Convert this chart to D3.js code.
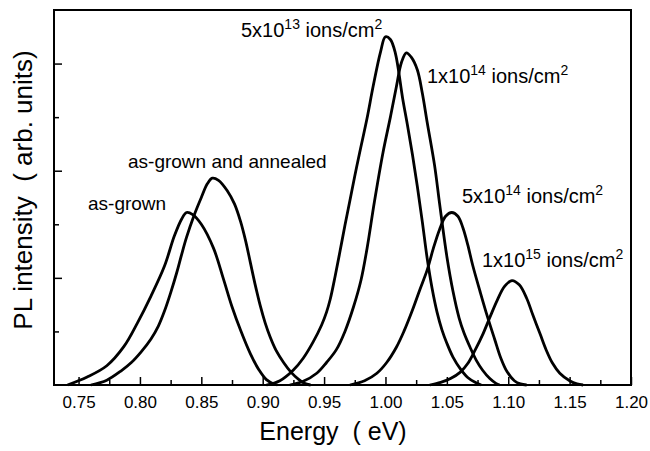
<!DOCTYPE html>
<html>
<head>
<meta charset="utf-8">
<script src="https://cdn.jsdelivr.net/npm/d3@7"></script>
<style>
  body { margin: 0; background: #fff; }
  text { font-family: "Liberation Sans", Arial, sans-serif; fill: #000; }
</style>
</head>
<body>
<div id="vis"></div>
<script>
// PL spectra, [energy (eV), intensity (arb.)]
const asGrown = [[0.741,0],[0.757,0.15],[0.773,0.36],[0.787,0.72],[0.798,1.16],[0.809,1.66],[0.820,2.22],[0.828,2.78],[0.834,3.10],[0.838,3.22],[0.843,3.18],[0.850,3.00],[0.860,2.55],[0.868,1.98],[0.875,1.46],[0.882,1.02],[0.890,0.58],[0.897,0.28],[0.903,0.10],[0.909,0.02],[0.912,0]];
const annealed = [[0.760,0],[0.773,0.09],[0.785,0.27],[0.793,0.42],[0.801,0.62],[0.809,0.86],[0.815,1.10],[0.820,1.38],[0.825,1.72],[0.830,2.10],[0.834,2.44],[0.838,2.76],[0.844,3.16],[0.850,3.50],[0.855,3.76],[0.859,3.86],[0.864,3.82],[0.871,3.63],[0.877,3.38],[0.882,3.05],[0.886,2.70],[0.890,2.28],[0.894,1.86],[0.898,1.48],[0.902,1.16],[0.906,0.90],[0.911,0.64],[0.917,0.42],[0.923,0.24],[0.929,0.11],[0.934,0.03],[0.939,0]];
const dose5e13 = [[0.903,0],[0.914,0.08],[0.925,0.28],[0.933,0.50],[0.941,0.80],[0.948,1.12],[0.952,1.36],[0.955,1.60],[0.959,2.03],[0.963,2.50],[0.967,2.98],[0.971,3.44],[0.975,3.90],[0.979,4.34],[0.985,4.98],[0.990,5.58],[0.996,6.22],[1.000,6.50],[1.004,6.45],[1.008,6.20],[1.014,5.35],[1.018,4.84],[1.022,4.30],[1.026,3.70],[1.030,3.05],[1.034,2.36],[1.038,1.80],[1.042,1.36],[1.046,1.03],[1.050,0.78],[1.055,0.52],[1.061,0.30],[1.067,0.14],[1.073,0.05],[1.078,0]];
const dose1e14 = [[0.922,0],[0.933,0.07],[0.944,0.22],[0.952,0.42],[0.960,0.66],[0.967,1.00],[0.974,1.46],[0.980,1.95],[0.985,2.55],[0.991,3.42],[0.998,4.34],[1.004,5.00],[1.009,5.58],[1.013,6.02],[1.017,6.20],[1.021,6.12],[1.026,5.88],[1.030,5.45],[1.034,4.90],[1.040,4.10],[1.044,3.40],[1.050,2.40],[1.055,1.75],[1.060,1.25],[1.064,0.97],[1.069,0.70],[1.074,0.46],[1.079,0.28],[1.085,0.12],[1.090,0.03],[1.093,0]];
const dose5e14 = [[0.971,0],[0.983,0.08],[0.993,0.22],[1.001,0.42],[1.009,0.71],[1.015,1.00],[1.022,1.40],[1.028,1.78],[1.034,2.15],[1.039,2.55],[1.044,2.90],[1.049,3.15],[1.054,3.22],[1.059,3.15],[1.063,2.94],[1.067,2.62],[1.071,2.24],[1.077,1.75],[1.083,1.28],[1.089,0.85],[1.094,0.50],[1.099,0.25],[1.105,0.08],[1.110,0.02],[1.115,0]];
const dose1e15 = [[1.036,0],[1.045,0.05],[1.053,0.12],[1.061,0.24],[1.067,0.40],[1.073,0.65],[1.079,0.93],[1.085,1.26],[1.091,1.58],[1.097,1.84],[1.103,1.95],[1.109,1.87],[1.115,1.62],[1.120,1.31],[1.126,0.95],[1.131,0.65],[1.136,0.41],[1.142,0.22],[1.150,0.08],[1.156,0.02],[1.161,0]];

const xMajor = [0.75,0.80,0.85,0.90,0.95,1.00,1.05,1.10,1.15,1.20];
const xMinor = [0.775,0.825,0.875,0.925,0.975,1.025,1.075,1.125,1.175];
const yMajor = [2,4,6];
const yMinor = [1,3,5];

const margin = { top: 10, right: 19, bottom: 66, left: 54 };
const W = 650, H = 451;
const width = W - margin.left - margin.right;
const height = H - margin.top - margin.bottom;

const $svg = d3.select('#vis').append('svg')
  .attr('width', W).attr('height', H);
const $plot = $svg.append('g')
  .attr('transform', `translate(${margin.left}, ${margin.top})`);

const x = d3.scaleLinear().domain([0.73, 1.20]).range([0, width]);
const y = d3.scaleLinear().domain([0, 7]).range([height, 0]);

// axes, ticks point inward
const fmt = d3.format('.2f');
const xAxis = $plot.append('g').attr('transform', `translate(0, ${height})`)
  .call(d3.axisBottom(x).tickValues(xMajor).tickFormat(fmt).tickSizeInner(-8).tickSizeOuter(0).tickPadding(11));
const xAxisMinor = $plot.append('g').attr('transform', `translate(0, ${height})`)
  .call(d3.axisBottom(x).tickValues(xMinor).tickFormat('').tickSizeInner(-5).tickSizeOuter(0));
const yAxis = $plot.append('g')
  .call(d3.axisLeft(y).tickValues(yMajor).tickFormat('').tickSizeInner(-8).tickSizeOuter(0));
const yAxisMinor = $plot.append('g')
  .call(d3.axisLeft(y).tickValues(yMinor).tickFormat('').tickSizeInner(-5).tickSizeOuter(0));

$plot.selectAll('.domain').remove();
$plot.selectAll('.tick line').attr('stroke', '#000').attr('stroke-width', 1.5);
xAxis.selectAll('.tick text').attr('font-size', 17).attr('font-family', '"Liberation Sans", Arial, sans-serif');

$plot.append('rect')
  .attr('x', 0).attr('y', 0)
  .attr('width', width).attr('height', height)
  .attr('fill', 'none').attr('stroke', '#000').attr('stroke-width', 2);

// spectra
const line = d3.line()
  .x(d => x(d[0]))
  .y(d => y(d[1]))
  .curve(d3.curveCatmullRom.alpha(0.5));

const series = [asGrown, annealed, dose5e13, dose1e14, dose5e14, dose1e15];
$plot.append('g').selectAll('path')
  .data(series)
  .enter().append('path')
  .attr('d', line)
  .attr('fill', 'none')
  .attr('stroke', '#000')
  .attr('stroke-width', 2.8)
  .attr('stroke-linejoin', 'round');

// curve labels: [text, exponent, energy, intensity]
const plainLabels = [['as-grown', 0.7577, 3.27], ['as-grown and annealed', 0.7903, 4.05]];
const doseLabels = [['5', '13', 0.8823, 6.50], ['1', '14', 1.0338, 5.64], ['5', '14', 1.0623, 3.40], ['1', '15', 1.0786, 2.20]];

plainLabels.forEach(l => {
  $plot.append('text')
    .attr('x', x(l[1])).attr('y', y(l[2]))
    .attr('font-size', 19)
    .text(l[0]);
});

doseLabels.forEach(l => {
  const t = $plot.append('text')
    .attr('x', x(l[2])).attr('y', y(l[3]))
    .attr('font-size', 20);
  t.append('tspan').text(`${l[0]}x10`);
  t.append('tspan').attr('font-size', 14).attr('dy', -8).text(l[1]);
  t.append('tspan').attr('dy', 8).text('\u00a0ions/cm');
  t.append('tspan').attr('font-size', 14).attr('dy', -8).text('2');
});

// axis titles
$svg.append('text')
  .attr('x', 333).attr('y', 440)
  .attr('text-anchor', 'middle')
  .attr('font-size', 25)
  .style('white-space', 'pre')
  .text('Energy  ( eV)');

$svg.append('text')
  .attr('transform', 'translate(32, 190) rotate(-90)')
  .attr('text-anchor', 'middle')
  .attr('font-size', 26)
  .style('white-space', 'pre')
  .text('PL intensity  ( arb. units)');
</script>
</body>
</html>
